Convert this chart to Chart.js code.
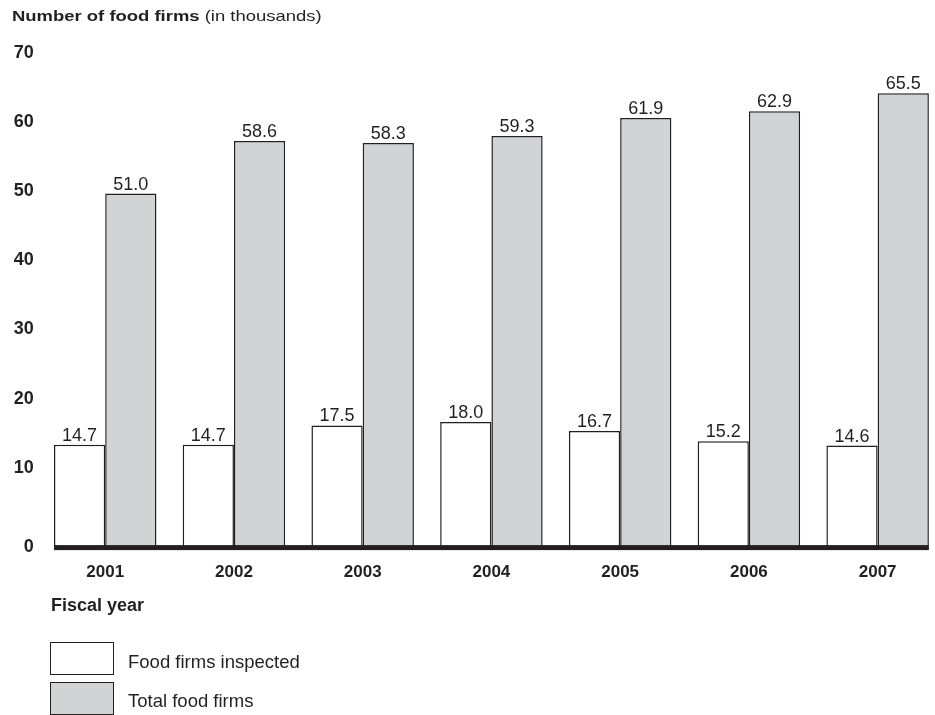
<!DOCTYPE html>
<html>
<head>
<meta charset="utf-8">
<script src="https://cdn.jsdelivr.net/npm/chart.js@4/dist/chart.umd.min.js"></script>
<style>
  html, body { margin: 0; padding: 0; background: #fff; overflow: hidden; width: 935px; height: 715px; }
  #wrap { position: absolute; left: 0; top: 0; width: 942px; height: 715px; }
  .txt { position: absolute; font-family: "Liberation Sans", Arial, sans-serif; color: #231f20; white-space: nowrap; line-height: 1; }
  .box { position: absolute; box-sizing: border-box; width: 64px; height: 33px; border: 1.5px solid #231f20; }
</style>
</head>
<body>
<div id="wrap"><canvas id="c" width="942" height="715"></canvas></div>
<div class="txt" style="left:12px; top:8px; font-size:15px; transform:scaleX(1.23); transform-origin:0 0;"><b>Number of food firms</b> (in thousands)</div>
<div class="txt" style="left:51px; top:596px; font-size:18px; font-weight:bold;">Fiscal year</div>
<div class="box" style="left:50px; top:642px; background:#ffffff;"></div>
<div class="txt" style="left:128px; top:652.5px; font-size:18.5px;">Food firms inspected</div>
<div class="box" style="left:50px; top:682px; background:#d1d3d4;"></div>
<div class="txt" style="left:128px; top:692px; font-size:18.5px;">Total food firms</div>
<script>
const categories = ['2001', '2002', '2003', '2004', '2005', '2006', '2007'];
const inspected = [14.7, 14.7, 17.5, 18.0, 16.7, 15.2, 14.6];
const totalFirms = [51.0, 58.6, 58.3, 59.3, 61.9, 62.9, 65.5];
const seriesNames = ['Food firms inspected', 'Total food firms'];
const yTicks = [0, 10, 20, 30, 40, 50, 60, 70];

const INK = '#231f20';
const FONT = '"Liberation Sans", Arial, sans-serif';

const valueLabels = {
  id: 'valueLabels',
  afterDatasetsDraw(chart) {
    const ctx = chart.ctx;
    ctx.save();
    ctx.font = '18px ' + FONT;
    ctx.fillStyle = INK;
    ctx.textAlign = 'center';
    ctx.textBaseline = 'alphabetic';
    chart.data.datasets.forEach((ds, di) => {
      const meta = chart.getDatasetMeta(di);
      meta.data.forEach((bar, i) => {
        ctx.fillText(ds.data[i].toFixed(1), bar.x, bar.y - 4);
      });
    });
    ctx.restore();
  }
};

const baseLine = {
  id: 'baseLine',
  afterDatasetsDraw(chart) {
    const m0 = chart.getDatasetMeta(0).data;
    const m1 = chart.getDatasetMeta(1).data;
    const first = m0[0], last = m1[m1.length - 1];
    const left = first.x - first.width / 2;
    const right = last.x + last.width / 2;
    const y0 = chart.scales.y.getPixelForValue(0);
    const ctx = chart.ctx;
    ctx.save();
    ctx.fillStyle = INK;
    ctx.fillRect(left, y0 - 1.5, right - left, 5);
    ctx.restore();
  }
};

new Chart(document.getElementById('c'), {
  type: 'bar',
  data: {
    labels: categories,
    datasets: [
      { label: seriesNames[0], data: inspected, backgroundColor: '#ffffff', borderColor: INK, borderWidth: 1.5 },
      { label: seriesNames[1], data: totalFirms, backgroundColor: '#d1d3d4', borderColor: INK, borderWidth: 1.5 }
    ]
  },
  options: {
    responsive: false,
    animation: false,
    categoryPercentage: 0.796,
    barPercentage: 1.0,
    layout: { padding: { left: 6.8, right: 0, top: 62, bottom: 116 } },
    plugins: { legend: { display: false }, tooltip: { enabled: false }, title: { display: false } },
    scales: {
      x: {
        grid: { display: false, drawTicks: false },
        border: { display: false },
        ticks: { color: INK, font: { family: FONT, size: 17, weight: 'bold' }, padding: 16 }
      },
      y: {
        min: 0, max: 70,
        grid: { display: false, drawTicks: false },
        border: { display: false },
        afterBuildTicks(scale) { scale.ticks = yTicks.map(v => ({ value: v })); },
        ticks: {
          color: INK,
          padding: 7,
          font: { family: FONT, size: 18, weight: 'bold', lineHeight: 1.05 },
          callback: (v) => v === 0 ? '0' : [String(v), '']
        }
      }
    }
  },
  plugins: [valueLabels, baseLine]
});
</script>
</body>
</html>
